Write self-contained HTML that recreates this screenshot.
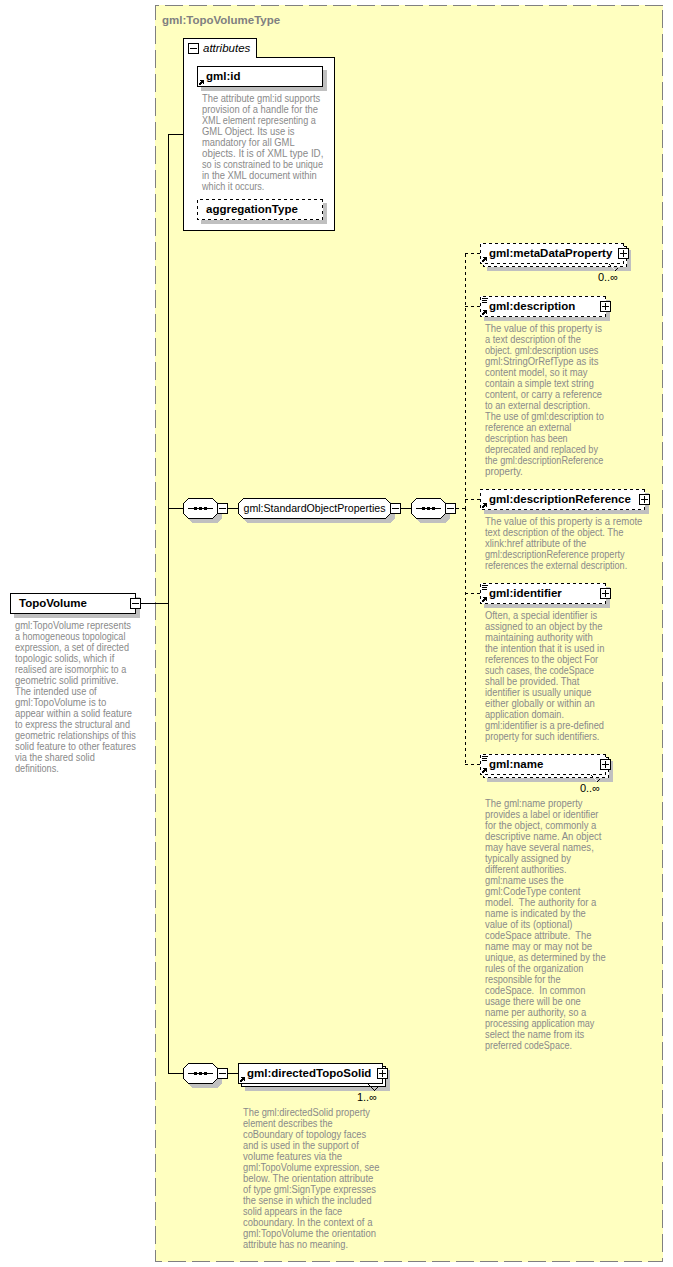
<!DOCTYPE html>
<html><head><meta charset="utf-8"><style>
html,body{margin:0;padding:0;background:#fff;}
body{width:673px;height:1267px;overflow:hidden;position:relative;}
svg{position:absolute;left:0;top:0;}
text{font-family:"Liberation Sans", sans-serif;white-space:pre;}
</style></head><body>
<svg width="673" height="1267" viewBox="0 0 673 1267" shape-rendering="crispEdges">
<rect x="155" y="5" width="508" height="1257" fill="#FFFFC0"/>
<line x1="155" y1="5.5" x2="663" y2="5.5" stroke="#808080" stroke-width="1" stroke-dasharray="18 6" stroke-dashoffset="14"/>
<line x1="155" y1="1261.5" x2="663" y2="1261.5" stroke="#808080" stroke-width="1" stroke-dasharray="18 6" stroke-dashoffset="11"/>
<line x1="155.5" y1="5" x2="155.5" y2="1262" stroke="#808080" stroke-width="1" stroke-dasharray="18 6" stroke-dashoffset="3"/>
<line x1="662.5" y1="5" x2="662.5" y2="1262" stroke="#808080" stroke-width="1" stroke-dasharray="18 6" stroke-dashoffset="19"/>
<text x="162" y="24" font-size="11.5" font-weight="bold" font-style="normal" fill="#808080" text-anchor="start">gml:TopoVolumeType</text>
<path d="M183.5,230.5 V38.5 H256.5 V57.5 H334.5 V230.5 Z" fill="#fff" stroke="#000" stroke-width="1"/>
<rect x="188.5" y="43.5" width="10" height="10" fill="#fff" stroke="#000" stroke-width="1"/>
<line x1="190" y1="48.5" x2="197" y2="48.5" stroke="#000" stroke-width="1"/>
<text x="203" y="52" font-size="11.5" font-weight="normal" font-style="italic" fill="#000" text-anchor="start">attributes</text>
<rect x="201" y="70" width="126" height="21" fill="#C0C0C0"/>
<rect x="197.5" y="66.5" width="125" height="20" fill="#fff" stroke="#000" stroke-width="1"/>
<rect x="200" y="80" width="1" height="1" fill="#000"/>
<rect x="201" y="80" width="1" height="1" fill="#000"/>
<rect x="202" y="80" width="1" height="1" fill="#000"/>
<rect x="203" y="80" width="1" height="1" fill="#000"/>
<rect x="201" y="81" width="1" height="1" fill="#000"/>
<rect x="202" y="81" width="1" height="1" fill="#000"/>
<rect x="203" y="81" width="1" height="1" fill="#000"/>
<rect x="200" y="82" width="1" height="1" fill="#000"/>
<rect x="201" y="82" width="1" height="1" fill="#000"/>
<rect x="202" y="82" width="1" height="1" fill="#000"/>
<rect x="203" y="82" width="1" height="1" fill="#000"/>
<rect x="199" y="83" width="1" height="1" fill="#000"/>
<rect x="200" y="83" width="1" height="1" fill="#000"/>
<rect x="201" y="83" width="1" height="1" fill="#000"/>
<rect x="203" y="83" width="1" height="1" fill="#000"/>
<rect x="199" y="84" width="1" height="1" fill="#000"/>
<rect x="200" y="84" width="1" height="1" fill="#000"/>
<text x="206" y="80" font-size="11.5" font-weight="bold" font-style="normal" fill="#000" text-anchor="start">gml:id</text>
<text x="202" y="102" font-size="10" fill="#8a8a8a" textLength="118.20" lengthAdjust="spacingAndGlyphs">The attribute gml:id supports</text>
<text x="202" y="113" font-size="10" fill="#8a8a8a" textLength="116.00" lengthAdjust="spacingAndGlyphs">provision of a handle for the</text>
<text x="202" y="124" font-size="10" fill="#8a8a8a" textLength="113.80" lengthAdjust="spacingAndGlyphs">XML element representing a</text>
<text x="202" y="135" font-size="10" fill="#8a8a8a" textLength="92.60" lengthAdjust="spacingAndGlyphs">GML Object. Its use is</text>
<text x="202" y="146" font-size="10" fill="#8a8a8a" textLength="92.60" lengthAdjust="spacingAndGlyphs">mandatory for all GML</text>
<text x="202" y="157" font-size="10" fill="#8a8a8a" textLength="121.40" lengthAdjust="spacingAndGlyphs">objects. It is of XML type ID,</text>
<text x="202" y="168" font-size="10" fill="#8a8a8a" textLength="121.00" lengthAdjust="spacingAndGlyphs">so is constrained to be unique</text>
<text x="202" y="179" font-size="10" fill="#8a8a8a" textLength="114.80" lengthAdjust="spacingAndGlyphs">in the XML document within</text>
<text x="202" y="190" font-size="10" fill="#8a8a8a" textLength="62.40" lengthAdjust="spacingAndGlyphs">which it occurs.</text>
<rect x="201" y="203" width="126" height="21" fill="#C0C0C0"/>
<rect x="197" y="199" width="126" height="21" fill="#fff"/>
<line x1="323" y1="199.5" x2="197" y2="199.5" stroke-dasharray="3 3" stroke="#000" stroke-width="1" stroke-dashoffset="0"/>
<line x1="197.5" y1="199" x2="197.5" y2="220" stroke-dasharray="3 3" stroke="#000" stroke-width="1" stroke-dashoffset="5"/>
<line x1="197" y1="219.5" x2="323" y2="219.5" stroke-dasharray="3 3" stroke="#000" stroke-width="1" stroke-dashoffset="1"/>
<line x1="322.5" y1="220" x2="322.5" y2="199" stroke-dasharray="3 3" stroke="#000" stroke-width="1" stroke-dashoffset="0"/>
<text x="206" y="213" font-size="11.5" font-weight="bold" font-style="normal" fill="#000" text-anchor="start">aggregationType</text>
<line x1="168.5" y1="134" x2="168.5" y2="1074" stroke="#000" stroke-width="1"/>
<line x1="168" y1="134.5" x2="184" y2="134.5" stroke="#000" stroke-width="1"/>
<line x1="141" y1="603.5" x2="169" y2="603.5" stroke="#000" stroke-width="1"/>
<line x1="168" y1="508.5" x2="184" y2="508.5" stroke="#000" stroke-width="1"/>
<line x1="168" y1="1073.5" x2="184" y2="1073.5" stroke="#000" stroke-width="1"/>
<rect x="14" y="597" width="126" height="21" fill="#C0C0C0"/>
<rect x="10.5" y="593.5" width="125" height="20" fill="#fff" stroke="#000" stroke-width="1"/>
<rect x="130.5" y="598.5" width="10" height="10" fill="#fff" stroke="#000" stroke-width="1"/>
<line x1="132" y1="603.5" x2="139" y2="603.5" stroke="#000" stroke-width="1"/>
<text x="19" y="607" font-size="11.5" font-weight="bold" font-style="normal" fill="#000" text-anchor="start">TopoVolume</text>
<text x="15" y="629" font-size="10" fill="#8a8a8a" textLength="116.00" lengthAdjust="spacingAndGlyphs">gml:TopoVolume represents</text>
<text x="15" y="640" font-size="10" fill="#8a8a8a" textLength="110.40" lengthAdjust="spacingAndGlyphs">a homogeneous topological</text>
<text x="15" y="651" font-size="10" fill="#8a8a8a" textLength="114.00" lengthAdjust="spacingAndGlyphs">expression, a set of directed</text>
<text x="15" y="662" font-size="10" fill="#8a8a8a" textLength="99.20" lengthAdjust="spacingAndGlyphs">topologic solids, which if</text>
<text x="15" y="673" font-size="10" fill="#8a8a8a" textLength="111.20" lengthAdjust="spacingAndGlyphs">realised are isomorphic to a</text>
<text x="15" y="684" font-size="10" fill="#8a8a8a" textLength="103.60" lengthAdjust="spacingAndGlyphs">geometric solid primitive.</text>
<text x="15" y="695" font-size="10" fill="#8a8a8a" textLength="81.60" lengthAdjust="spacingAndGlyphs">The intended use of</text>
<text x="15" y="706" font-size="10" fill="#8a8a8a" textLength="91.40" lengthAdjust="spacingAndGlyphs">gml:TopoVolume is to</text>
<text x="15" y="717" font-size="10" fill="#8a8a8a" textLength="117.00" lengthAdjust="spacingAndGlyphs">appear within a solid feature</text>
<text x="15" y="728" font-size="10" fill="#8a8a8a" textLength="115.00" lengthAdjust="spacingAndGlyphs">to express the structural and</text>
<text x="15" y="739" font-size="10" fill="#8a8a8a" textLength="120.80" lengthAdjust="spacingAndGlyphs">geometric relationships of this</text>
<text x="15" y="750" font-size="10" fill="#8a8a8a" textLength="120.80" lengthAdjust="spacingAndGlyphs">solid feature to other features</text>
<text x="15" y="761" font-size="10" fill="#8a8a8a" textLength="79.80" lengthAdjust="spacingAndGlyphs">via the shared solid</text>
<text x="15" y="772" font-size="10" fill="#8a8a8a" textLength="43.80" lengthAdjust="spacingAndGlyphs">definitions.</text>
<polygon points="187,507 192,502 217.5,502 222,506.5 222,518.5 217.5,523 192,523 187,518" fill="#C0C0C0"/>
<polygon points="183.5,503.5 188.5,498.5 212.5,498.5 217.5,503.5 217.5,513.5 212.5,518.5 188.5,518.5 183.5,513.5" fill="#fff" stroke="#000" stroke-width="1"/>
<line x1="188" y1="508.5" x2="213" y2="508.5" stroke="#000" stroke-width="1"/>
<rect x="194" y="507" width="3" height="3" fill="#000"/>
<rect x="199" y="507" width="3" height="3" fill="#000"/>
<rect x="204" y="507" width="3" height="3" fill="#000"/>
<rect x="217.5" y="503.5" width="10" height="10" fill="#fff" stroke="#000" stroke-width="1"/>
<line x1="219" y1="508.5" x2="226" y2="508.5" stroke="#000" stroke-width="1"/>
<line x1="228" y1="508.5" x2="239" y2="508.5" stroke="#000" stroke-width="1"/>
<polygon points="242,507 247,502 390.5,502 395,506.5 395,518.5 390.5,523 247,523 242,518" fill="#C0C0C0"/>
<polygon points="238.5,503.5 243.5,498.5 385.5,498.5 390.5,503.5 390.5,513.5 385.5,518.5 243.5,518.5 238.5,513.5" fill="#fff" stroke="#000" stroke-width="1"/>
<text x="243.5" y="512" font-size="11" font-weight="normal" fill="#000" textLength="142" lengthAdjust="spacingAndGlyphs">gml:StandardObjectProperties</text>
<rect x="390.5" y="503.5" width="10" height="10" fill="#fff" stroke="#000" stroke-width="1"/>
<line x1="392" y1="508.5" x2="399" y2="508.5" stroke="#000" stroke-width="1"/>
<line x1="401" y1="508.5" x2="412" y2="508.5" stroke="#000" stroke-width="1"/>
<polygon points="415,507 420,502 445.5,502 450,506.5 450,518.5 445.5,523 420,523 415,518" fill="#C0C0C0"/>
<polygon points="411.5,503.5 416.5,498.5 440.5,498.5 445.5,503.5 445.5,513.5 440.5,518.5 416.5,518.5 411.5,513.5" fill="#fff" stroke="#000" stroke-width="1"/>
<line x1="416" y1="508.5" x2="441" y2="508.5" stroke="#000" stroke-width="1"/>
<rect x="422" y="507" width="3" height="3" fill="#000"/>
<rect x="427" y="507" width="3" height="3" fill="#000"/>
<rect x="432" y="507" width="3" height="3" fill="#000"/>
<rect x="445.5" y="503.5" width="10" height="10" fill="#fff" stroke="#000" stroke-width="1"/>
<line x1="447" y1="508.5" x2="454" y2="508.5" stroke="#000" stroke-width="1"/>
<line x1="456" y1="508.5" x2="466" y2="508.5" stroke="#000" stroke-width="1" stroke-dasharray="3 3" stroke-dashoffset="0"/>
<line x1="465.5" y1="509" x2="465.5" y2="253" stroke="#000" stroke-width="1" stroke-dasharray="3 3"/>
<line x1="465.5" y1="508" x2="465.5" y2="765" stroke="#000" stroke-width="1" stroke-dasharray="3 3"/>
<line x1="465" y1="253.5" x2="481" y2="253.5" stroke="#000" stroke-width="1" stroke-dasharray="3 3" stroke-dashoffset="0"/>
<line x1="465" y1="306.5" x2="481" y2="306.5" stroke="#000" stroke-width="1" stroke-dasharray="3 3" stroke-dashoffset="0"/>
<line x1="465" y1="499.5" x2="481" y2="499.5" stroke="#000" stroke-width="1" stroke-dasharray="3 3" stroke-dashoffset="0"/>
<line x1="465" y1="593.5" x2="481" y2="593.5" stroke="#000" stroke-width="1" stroke-dasharray="3 3" stroke-dashoffset="0"/>
<line x1="465" y1="764.5" x2="481" y2="764.5" stroke="#000" stroke-width="1" stroke-dasharray="3 3" stroke-dashoffset="0"/>
<rect x="487" y="250" width="144" height="21" fill="#C0C0C0"/>
<rect x="483" y="246" width="144" height="21" fill="#fff"/>
<line x1="627" y1="246.5" x2="483" y2="246.5" stroke-dasharray="3 3" stroke="#000" stroke-width="1" stroke-dashoffset="0"/>
<line x1="483.5" y1="246" x2="483.5" y2="267" stroke-dasharray="3 3" stroke="#000" stroke-width="1" stroke-dashoffset="5"/>
<line x1="483" y1="266.5" x2="627" y2="266.5" stroke-dasharray="3 3" stroke="#000" stroke-width="1" stroke-dashoffset="1"/>
<line x1="626.5" y1="267" x2="626.5" y2="246" stroke-dasharray="3 3" stroke="#000" stroke-width="1" stroke-dashoffset="0"/>
<rect x="480" y="243" width="144" height="21" fill="#fff"/>
<line x1="624" y1="243.5" x2="480" y2="243.5" stroke-dasharray="3 3" stroke="#000" stroke-width="1" stroke-dashoffset="0"/>
<line x1="480.5" y1="243" x2="480.5" y2="264" stroke-dasharray="3 3" stroke="#000" stroke-width="1" stroke-dashoffset="5"/>
<line x1="480" y1="263.5" x2="624" y2="263.5" stroke-dasharray="3 3" stroke="#000" stroke-width="1" stroke-dashoffset="1"/>
<line x1="623.5" y1="264" x2="623.5" y2="243" stroke-dasharray="3 3" stroke="#000" stroke-width="1" stroke-dashoffset="0"/>
<rect x="483" y="257" width="1" height="1" fill="#000"/>
<rect x="484" y="257" width="1" height="1" fill="#000"/>
<rect x="485" y="257" width="1" height="1" fill="#000"/>
<rect x="486" y="257" width="1" height="1" fill="#000"/>
<rect x="484" y="258" width="1" height="1" fill="#000"/>
<rect x="485" y="258" width="1" height="1" fill="#000"/>
<rect x="486" y="258" width="1" height="1" fill="#000"/>
<rect x="483" y="259" width="1" height="1" fill="#000"/>
<rect x="484" y="259" width="1" height="1" fill="#000"/>
<rect x="485" y="259" width="1" height="1" fill="#000"/>
<rect x="486" y="259" width="1" height="1" fill="#000"/>
<rect x="482" y="260" width="1" height="1" fill="#000"/>
<rect x="483" y="260" width="1" height="1" fill="#000"/>
<rect x="484" y="260" width="1" height="1" fill="#000"/>
<rect x="486" y="260" width="1" height="1" fill="#000"/>
<rect x="482" y="261" width="1" height="1" fill="#000"/>
<rect x="483" y="261" width="1" height="1" fill="#000"/>
<text x="489" y="257" font-size="11.5" font-weight="bold" font-style="normal" fill="#000" text-anchor="start">gml:metaDataProperty</text>
<rect x="612" y="267" width="1" height="1" fill="#eee"/>
<rect x="613" y="268" width="1" height="1" fill="#eee"/>
<rect x="614" y="269" width="1" height="1" fill="#eee"/>
<rect x="609" y="264" width="1" height="1" fill="#000"/>
<rect x="610" y="265" width="1" height="1" fill="#000"/>
<rect x="615" y="270" width="1" height="1" fill="#000"/>
<rect x="616" y="269" width="1" height="1" fill="#000"/>
<rect x="617" y="268" width="1" height="1" fill="#000"/>
<rect x="618.5" y="248.5" width="10" height="10" fill="#fff" stroke="#000" stroke-width="1"/>
<line x1="620" y1="253.5" x2="627" y2="253.5" stroke="#000" stroke-width="1"/>
<line x1="623.5" y1="250" x2="623.5" y2="257" stroke="#000" stroke-width="1"/>
<text x="618" y="281" font-size="11" font-weight="normal" font-style="normal" fill="#000" text-anchor="end">0..∞</text>
<rect x="484" y="300" width="126" height="21" fill="#C0C0C0"/>
<rect x="480" y="296" width="126" height="21" fill="#fff"/>
<line x1="606" y1="296.5" x2="480" y2="296.5" stroke-dasharray="3 3" stroke="#000" stroke-width="1" stroke-dashoffset="0"/>
<line x1="480.5" y1="296" x2="480.5" y2="317" stroke-dasharray="3 3" stroke="#000" stroke-width="1" stroke-dashoffset="5"/>
<line x1="480" y1="316.5" x2="606" y2="316.5" stroke-dasharray="3 3" stroke="#000" stroke-width="1" stroke-dashoffset="1"/>
<line x1="605.5" y1="317" x2="605.5" y2="296" stroke-dasharray="3 3" stroke="#000" stroke-width="1" stroke-dashoffset="0"/>
<line x1="482" y1="298.5" x2="488" y2="298.5" stroke="#000" stroke-width="1"/>
<line x1="482" y1="300.5" x2="487" y2="300.5" stroke="#000" stroke-width="1"/>
<line x1="482" y1="302.5" x2="487" y2="302.5" stroke="#000" stroke-width="1"/>
<rect x="483" y="310" width="1" height="1" fill="#000"/>
<rect x="484" y="310" width="1" height="1" fill="#000"/>
<rect x="485" y="310" width="1" height="1" fill="#000"/>
<rect x="486" y="310" width="1" height="1" fill="#000"/>
<rect x="484" y="311" width="1" height="1" fill="#000"/>
<rect x="485" y="311" width="1" height="1" fill="#000"/>
<rect x="486" y="311" width="1" height="1" fill="#000"/>
<rect x="483" y="312" width="1" height="1" fill="#000"/>
<rect x="484" y="312" width="1" height="1" fill="#000"/>
<rect x="485" y="312" width="1" height="1" fill="#000"/>
<rect x="486" y="312" width="1" height="1" fill="#000"/>
<rect x="482" y="313" width="1" height="1" fill="#000"/>
<rect x="483" y="313" width="1" height="1" fill="#000"/>
<rect x="484" y="313" width="1" height="1" fill="#000"/>
<rect x="486" y="313" width="1" height="1" fill="#000"/>
<rect x="482" y="314" width="1" height="1" fill="#000"/>
<rect x="483" y="314" width="1" height="1" fill="#000"/>
<text x="489" y="310" font-size="11.5" font-weight="bold" font-style="normal" fill="#000" text-anchor="start">gml:description</text>
<rect x="600.5" y="301.5" width="10" height="10" fill="#fff" stroke="#000" stroke-width="1"/>
<line x1="602" y1="306.5" x2="609" y2="306.5" stroke="#000" stroke-width="1"/>
<line x1="605.5" y1="303" x2="605.5" y2="310" stroke="#000" stroke-width="1"/>
<text x="485" y="332" font-size="10" fill="#8a8a8a" textLength="117.00" lengthAdjust="spacingAndGlyphs">The value of this property is</text>
<text x="485" y="343" font-size="10" fill="#8a8a8a" textLength="95.80" lengthAdjust="spacingAndGlyphs">a text description of the</text>
<text x="485" y="354" font-size="10" fill="#8a8a8a" textLength="113.40" lengthAdjust="spacingAndGlyphs">object. gml:description uses</text>
<text x="485" y="365" font-size="10" fill="#8a8a8a" textLength="113.40" lengthAdjust="spacingAndGlyphs">gml:StringOrRefType as its</text>
<text x="485" y="376" font-size="10" fill="#8a8a8a" textLength="102.60" lengthAdjust="spacingAndGlyphs">content model, so it may</text>
<text x="485" y="387" font-size="10" fill="#8a8a8a" textLength="108.80" lengthAdjust="spacingAndGlyphs">contain a simple text string</text>
<text x="485" y="398" font-size="10" fill="#8a8a8a" textLength="117.00" lengthAdjust="spacingAndGlyphs">content, or carry a reference</text>
<text x="485" y="409" font-size="10" fill="#8a8a8a" textLength="105.20" lengthAdjust="spacingAndGlyphs">to an external description.</text>
<text x="485" y="420" font-size="10" fill="#8a8a8a" textLength="118.80" lengthAdjust="spacingAndGlyphs">The use of gml:description to</text>
<text x="485" y="431" font-size="10" fill="#8a8a8a" textLength="86.40" lengthAdjust="spacingAndGlyphs">reference an external</text>
<text x="485" y="442" font-size="10" fill="#8a8a8a" textLength="82.60" lengthAdjust="spacingAndGlyphs">description has been</text>
<text x="485" y="453" font-size="10" fill="#8a8a8a" textLength="113.00" lengthAdjust="spacingAndGlyphs">deprecated and replaced by</text>
<text x="485" y="464" font-size="10" fill="#8a8a8a" textLength="118.40" lengthAdjust="spacingAndGlyphs">the gml:descriptionReference</text>
<text x="485" y="475" font-size="10" fill="#8a8a8a" textLength="37.80" lengthAdjust="spacingAndGlyphs">property.</text>
<rect x="484" y="493" width="165" height="21" fill="#C0C0C0"/>
<rect x="480" y="489" width="165" height="21" fill="#fff"/>
<line x1="645" y1="489.5" x2="480" y2="489.5" stroke-dasharray="3 3" stroke="#000" stroke-width="1" stroke-dashoffset="0"/>
<line x1="480.5" y1="489" x2="480.5" y2="510" stroke-dasharray="3 3" stroke="#000" stroke-width="1" stroke-dashoffset="2"/>
<line x1="480" y1="509.5" x2="645" y2="509.5" stroke-dasharray="3 3" stroke="#000" stroke-width="1" stroke-dashoffset="4"/>
<line x1="644.5" y1="510" x2="644.5" y2="489" stroke-dasharray="3 3" stroke="#000" stroke-width="1" stroke-dashoffset="0"/>
<rect x="483" y="503" width="1" height="1" fill="#000"/>
<rect x="484" y="503" width="1" height="1" fill="#000"/>
<rect x="485" y="503" width="1" height="1" fill="#000"/>
<rect x="486" y="503" width="1" height="1" fill="#000"/>
<rect x="484" y="504" width="1" height="1" fill="#000"/>
<rect x="485" y="504" width="1" height="1" fill="#000"/>
<rect x="486" y="504" width="1" height="1" fill="#000"/>
<rect x="483" y="505" width="1" height="1" fill="#000"/>
<rect x="484" y="505" width="1" height="1" fill="#000"/>
<rect x="485" y="505" width="1" height="1" fill="#000"/>
<rect x="486" y="505" width="1" height="1" fill="#000"/>
<rect x="482" y="506" width="1" height="1" fill="#000"/>
<rect x="483" y="506" width="1" height="1" fill="#000"/>
<rect x="484" y="506" width="1" height="1" fill="#000"/>
<rect x="486" y="506" width="1" height="1" fill="#000"/>
<rect x="482" y="507" width="1" height="1" fill="#000"/>
<rect x="483" y="507" width="1" height="1" fill="#000"/>
<text x="489" y="503" font-size="11.5" font-weight="bold" font-style="normal" fill="#000" text-anchor="start">gml:descriptionReference</text>
<rect x="639.5" y="494.5" width="10" height="10" fill="#fff" stroke="#000" stroke-width="1"/>
<line x1="641" y1="499.5" x2="648" y2="499.5" stroke="#000" stroke-width="1"/>
<line x1="644.5" y1="496" x2="644.5" y2="503" stroke="#000" stroke-width="1"/>
<text x="485" y="525" font-size="10" fill="#8a8a8a" textLength="157.40" lengthAdjust="spacingAndGlyphs">The value of this property is a remote</text>
<text x="485" y="536" font-size="10" fill="#8a8a8a" textLength="138.60" lengthAdjust="spacingAndGlyphs">text description of the object. The</text>
<text x="485" y="547" font-size="10" fill="#8a8a8a" textLength="101.40" lengthAdjust="spacingAndGlyphs">xlink:href attribute of the</text>
<text x="485" y="558" font-size="10" fill="#8a8a8a" textLength="139.60" lengthAdjust="spacingAndGlyphs">gml:descriptionReference property</text>
<text x="485" y="569" font-size="10" fill="#8a8a8a" textLength="142.20" lengthAdjust="spacingAndGlyphs">references the external description.</text>
<rect x="484" y="587" width="126" height="21" fill="#C0C0C0"/>
<rect x="480" y="583" width="126" height="21" fill="#fff"/>
<line x1="606" y1="583.5" x2="480" y2="583.5" stroke-dasharray="3 3" stroke="#000" stroke-width="1" stroke-dashoffset="0"/>
<line x1="480.5" y1="583" x2="480.5" y2="604" stroke-dasharray="3 3" stroke="#000" stroke-width="1" stroke-dashoffset="5"/>
<line x1="480" y1="603.5" x2="606" y2="603.5" stroke-dasharray="3 3" stroke="#000" stroke-width="1" stroke-dashoffset="1"/>
<line x1="605.5" y1="604" x2="605.5" y2="583" stroke-dasharray="3 3" stroke="#000" stroke-width="1" stroke-dashoffset="0"/>
<line x1="482" y1="585.5" x2="488" y2="585.5" stroke="#000" stroke-width="1"/>
<line x1="482" y1="587.5" x2="487" y2="587.5" stroke="#000" stroke-width="1"/>
<line x1="482" y1="589.5" x2="487" y2="589.5" stroke="#000" stroke-width="1"/>
<rect x="483" y="597" width="1" height="1" fill="#000"/>
<rect x="484" y="597" width="1" height="1" fill="#000"/>
<rect x="485" y="597" width="1" height="1" fill="#000"/>
<rect x="486" y="597" width="1" height="1" fill="#000"/>
<rect x="484" y="598" width="1" height="1" fill="#000"/>
<rect x="485" y="598" width="1" height="1" fill="#000"/>
<rect x="486" y="598" width="1" height="1" fill="#000"/>
<rect x="483" y="599" width="1" height="1" fill="#000"/>
<rect x="484" y="599" width="1" height="1" fill="#000"/>
<rect x="485" y="599" width="1" height="1" fill="#000"/>
<rect x="486" y="599" width="1" height="1" fill="#000"/>
<rect x="482" y="600" width="1" height="1" fill="#000"/>
<rect x="483" y="600" width="1" height="1" fill="#000"/>
<rect x="484" y="600" width="1" height="1" fill="#000"/>
<rect x="486" y="600" width="1" height="1" fill="#000"/>
<rect x="482" y="601" width="1" height="1" fill="#000"/>
<rect x="483" y="601" width="1" height="1" fill="#000"/>
<text x="489" y="597" font-size="11.5" font-weight="bold" font-style="normal" fill="#000" text-anchor="start">gml:identifier</text>
<rect x="600.5" y="588.5" width="10" height="10" fill="#fff" stroke="#000" stroke-width="1"/>
<line x1="602" y1="593.5" x2="609" y2="593.5" stroke="#000" stroke-width="1"/>
<line x1="605.5" y1="590" x2="605.5" y2="597" stroke="#000" stroke-width="1"/>
<text x="485" y="619" font-size="10" fill="#8a8a8a" textLength="112.20" lengthAdjust="spacingAndGlyphs">Often, a special identifier is</text>
<text x="485" y="630" font-size="10" fill="#8a8a8a" textLength="117.40" lengthAdjust="spacingAndGlyphs">assigned to an object by the</text>
<text x="485" y="641" font-size="10" fill="#8a8a8a" textLength="107.80" lengthAdjust="spacingAndGlyphs">maintaining authority with</text>
<text x="485" y="652" font-size="10" fill="#8a8a8a" textLength="119.40" lengthAdjust="spacingAndGlyphs">the intention that it is used in</text>
<text x="485" y="663" font-size="10" fill="#8a8a8a" textLength="113.20" lengthAdjust="spacingAndGlyphs">references to the object For</text>
<text x="485" y="674" font-size="10" fill="#8a8a8a" textLength="109.00" lengthAdjust="spacingAndGlyphs">such cases, the codeSpace</text>
<text x="485" y="685" font-size="10" fill="#8a8a8a" textLength="94.40" lengthAdjust="spacingAndGlyphs">shall be provided. That</text>
<text x="485" y="696" font-size="10" fill="#8a8a8a" textLength="106.40" lengthAdjust="spacingAndGlyphs">identifier is usually unique</text>
<text x="485" y="707" font-size="10" fill="#8a8a8a" textLength="109.80" lengthAdjust="spacingAndGlyphs">either globally or within an</text>
<text x="485" y="718" font-size="10" fill="#8a8a8a" textLength="79.00" lengthAdjust="spacingAndGlyphs">application domain.</text>
<text x="485" y="729" font-size="10" fill="#8a8a8a" textLength="119.00" lengthAdjust="spacingAndGlyphs">gml:identifier is a pre-defined</text>
<text x="485" y="740" font-size="10" fill="#8a8a8a" textLength="114.40" lengthAdjust="spacingAndGlyphs">property for such identifiers.</text>
<rect x="487" y="761" width="126" height="21" fill="#C0C0C0"/>
<rect x="483" y="757" width="126" height="21" fill="#fff"/>
<line x1="609" y1="757.5" x2="483" y2="757.5" stroke-dasharray="3 3" stroke="#000" stroke-width="1" stroke-dashoffset="0"/>
<line x1="483.5" y1="757" x2="483.5" y2="778" stroke-dasharray="3 3" stroke="#000" stroke-width="1" stroke-dashoffset="5"/>
<line x1="483" y1="777.5" x2="609" y2="777.5" stroke-dasharray="3 3" stroke="#000" stroke-width="1" stroke-dashoffset="1"/>
<line x1="608.5" y1="778" x2="608.5" y2="757" stroke-dasharray="3 3" stroke="#000" stroke-width="1" stroke-dashoffset="0"/>
<rect x="480" y="754" width="126" height="21" fill="#fff"/>
<line x1="606" y1="754.5" x2="480" y2="754.5" stroke-dasharray="3 3" stroke="#000" stroke-width="1" stroke-dashoffset="0"/>
<line x1="480.5" y1="754" x2="480.5" y2="775" stroke-dasharray="3 3" stroke="#000" stroke-width="1" stroke-dashoffset="5"/>
<line x1="480" y1="774.5" x2="606" y2="774.5" stroke-dasharray="3 3" stroke="#000" stroke-width="1" stroke-dashoffset="1"/>
<line x1="605.5" y1="775" x2="605.5" y2="754" stroke-dasharray="3 3" stroke="#000" stroke-width="1" stroke-dashoffset="0"/>
<line x1="482" y1="756.5" x2="488" y2="756.5" stroke="#000" stroke-width="1"/>
<line x1="482" y1="758.5" x2="487" y2="758.5" stroke="#000" stroke-width="1"/>
<line x1="482" y1="760.5" x2="487" y2="760.5" stroke="#000" stroke-width="1"/>
<rect x="483" y="768" width="1" height="1" fill="#000"/>
<rect x="484" y="768" width="1" height="1" fill="#000"/>
<rect x="485" y="768" width="1" height="1" fill="#000"/>
<rect x="486" y="768" width="1" height="1" fill="#000"/>
<rect x="484" y="769" width="1" height="1" fill="#000"/>
<rect x="485" y="769" width="1" height="1" fill="#000"/>
<rect x="486" y="769" width="1" height="1" fill="#000"/>
<rect x="483" y="770" width="1" height="1" fill="#000"/>
<rect x="484" y="770" width="1" height="1" fill="#000"/>
<rect x="485" y="770" width="1" height="1" fill="#000"/>
<rect x="486" y="770" width="1" height="1" fill="#000"/>
<rect x="482" y="771" width="1" height="1" fill="#000"/>
<rect x="483" y="771" width="1" height="1" fill="#000"/>
<rect x="484" y="771" width="1" height="1" fill="#000"/>
<rect x="486" y="771" width="1" height="1" fill="#000"/>
<rect x="482" y="772" width="1" height="1" fill="#000"/>
<rect x="483" y="772" width="1" height="1" fill="#000"/>
<text x="489" y="768" font-size="11.5" font-weight="bold" font-style="normal" fill="#000" text-anchor="start">gml:name</text>
<rect x="594" y="778" width="1" height="1" fill="#eee"/>
<rect x="595" y="779" width="1" height="1" fill="#eee"/>
<rect x="596" y="780" width="1" height="1" fill="#eee"/>
<rect x="591" y="775" width="1" height="1" fill="#000"/>
<rect x="592" y="776" width="1" height="1" fill="#000"/>
<rect x="597" y="781" width="1" height="1" fill="#000"/>
<rect x="598" y="780" width="1" height="1" fill="#000"/>
<rect x="599" y="779" width="1" height="1" fill="#000"/>
<rect x="600.5" y="759.5" width="10" height="10" fill="#fff" stroke="#000" stroke-width="1"/>
<line x1="602" y1="764.5" x2="609" y2="764.5" stroke="#000" stroke-width="1"/>
<line x1="605.5" y1="761" x2="605.5" y2="768" stroke="#000" stroke-width="1"/>
<text x="600" y="792" font-size="11" font-weight="normal" font-style="normal" fill="#000" text-anchor="end">0..∞</text>
<text x="485" y="807" font-size="10" fill="#8a8a8a" textLength="97.60" lengthAdjust="spacingAndGlyphs">The gml:name property</text>
<text x="485" y="818" font-size="10" fill="#8a8a8a" textLength="113.40" lengthAdjust="spacingAndGlyphs">provides a label or identifier</text>
<text x="485" y="829" font-size="10" fill="#8a8a8a" textLength="111.40" lengthAdjust="spacingAndGlyphs">for the object, commonly a</text>
<text x="485" y="840" font-size="10" fill="#8a8a8a" textLength="116.40" lengthAdjust="spacingAndGlyphs">descriptive name. An object</text>
<text x="485" y="851" font-size="10" fill="#8a8a8a" textLength="108.80" lengthAdjust="spacingAndGlyphs">may have several names,</text>
<text x="485" y="862" font-size="10" fill="#8a8a8a" textLength="86.00" lengthAdjust="spacingAndGlyphs">typically assigned by</text>
<text x="485" y="873" font-size="10" fill="#8a8a8a" textLength="81.60" lengthAdjust="spacingAndGlyphs">different authorities.</text>
<text x="485" y="884" font-size="10" fill="#8a8a8a" textLength="78.60" lengthAdjust="spacingAndGlyphs">gml:name uses the</text>
<text x="485" y="895" font-size="10" fill="#8a8a8a" textLength="95.40" lengthAdjust="spacingAndGlyphs">gml:CodeType content</text>
<text x="485" y="906" font-size="10" fill="#8a8a8a" textLength="111.40" lengthAdjust="spacingAndGlyphs">model.  The authority for a</text>
<text x="485" y="917" font-size="10" fill="#8a8a8a" textLength="100.80" lengthAdjust="spacingAndGlyphs">name is indicated by the</text>
<text x="485" y="928" font-size="10" fill="#8a8a8a" textLength="87.40" lengthAdjust="spacingAndGlyphs">value of its (optional)</text>
<text x="485" y="939" font-size="10" fill="#8a8a8a" textLength="106.40" lengthAdjust="spacingAndGlyphs">codeSpace attribute.  The</text>
<text x="485" y="950" font-size="10" fill="#8a8a8a" textLength="107.20" lengthAdjust="spacingAndGlyphs">name may or may not be</text>
<text x="485" y="961" font-size="10" fill="#8a8a8a" textLength="120.60" lengthAdjust="spacingAndGlyphs">unique, as determined by the</text>
<text x="485" y="972" font-size="10" fill="#8a8a8a" textLength="98.40" lengthAdjust="spacingAndGlyphs">rules of the organization</text>
<text x="485" y="983" font-size="10" fill="#8a8a8a" textLength="75.60" lengthAdjust="spacingAndGlyphs">responsible for the</text>
<text x="485" y="994" font-size="10" fill="#8a8a8a" textLength="100.40" lengthAdjust="spacingAndGlyphs">codeSpace.  In common</text>
<text x="485" y="1005" font-size="10" fill="#8a8a8a" textLength="95.80" lengthAdjust="spacingAndGlyphs">usage there will be one</text>
<text x="485" y="1016" font-size="10" fill="#8a8a8a" textLength="101.40" lengthAdjust="spacingAndGlyphs">name per authority, so a</text>
<text x="485" y="1027" font-size="10" fill="#8a8a8a" textLength="109.40" lengthAdjust="spacingAndGlyphs">processing application may</text>
<text x="485" y="1038" font-size="10" fill="#8a8a8a" textLength="99.20" lengthAdjust="spacingAndGlyphs">select the name from its</text>
<text x="485" y="1049" font-size="10" fill="#8a8a8a" textLength="87.00" lengthAdjust="spacingAndGlyphs">preferred codeSpace.</text>
<polygon points="187,1072 192,1067 217.5,1067 222,1071.5 222,1083.5 217.5,1088 192,1088 187,1083" fill="#C0C0C0"/>
<polygon points="183.5,1068.5 188.5,1063.5 212.5,1063.5 217.5,1068.5 217.5,1078.5 212.5,1083.5 188.5,1083.5 183.5,1078.5" fill="#fff" stroke="#000" stroke-width="1"/>
<line x1="188" y1="1073.5" x2="213" y2="1073.5" stroke="#000" stroke-width="1"/>
<rect x="194" y="1072" width="3" height="3" fill="#000"/>
<rect x="199" y="1072" width="3" height="3" fill="#000"/>
<rect x="204" y="1072" width="3" height="3" fill="#000"/>
<rect x="217.5" y="1068.5" width="10" height="10" fill="#fff" stroke="#000" stroke-width="1"/>
<line x1="219" y1="1073.5" x2="226" y2="1073.5" stroke="#000" stroke-width="1"/>
<line x1="228" y1="1073.5" x2="239" y2="1073.5" stroke="#000" stroke-width="1"/>
<rect x="245" y="1070" width="145" height="21" fill="#C0C0C0"/>
<rect x="241.5" y="1066.5" width="144" height="20" fill="#fff" stroke="#000" stroke-width="1"/>
<rect x="238.5" y="1063.5" width="144" height="20" fill="#fff" stroke="#000" stroke-width="1"/>
<rect x="241" y="1077" width="1" height="1" fill="#000"/>
<rect x="242" y="1077" width="1" height="1" fill="#000"/>
<rect x="243" y="1077" width="1" height="1" fill="#000"/>
<rect x="244" y="1077" width="1" height="1" fill="#000"/>
<rect x="242" y="1078" width="1" height="1" fill="#000"/>
<rect x="243" y="1078" width="1" height="1" fill="#000"/>
<rect x="244" y="1078" width="1" height="1" fill="#000"/>
<rect x="241" y="1079" width="1" height="1" fill="#000"/>
<rect x="242" y="1079" width="1" height="1" fill="#000"/>
<rect x="243" y="1079" width="1" height="1" fill="#000"/>
<rect x="244" y="1079" width="1" height="1" fill="#000"/>
<rect x="240" y="1080" width="1" height="1" fill="#000"/>
<rect x="241" y="1080" width="1" height="1" fill="#000"/>
<rect x="242" y="1080" width="1" height="1" fill="#000"/>
<rect x="244" y="1080" width="1" height="1" fill="#000"/>
<rect x="240" y="1081" width="1" height="1" fill="#000"/>
<rect x="241" y="1081" width="1" height="1" fill="#000"/>
<text x="247" y="1077" font-size="11.5" font-weight="bold" font-style="normal" fill="#000" text-anchor="start">gml:directedTopoSolid</text>
<rect x="368" y="1084" width="1" height="1" fill="#000"/>
<rect x="369" y="1085" width="1" height="1" fill="#000"/>
<rect x="374" y="1090" width="1" height="1" fill="#000"/>
<rect x="375" y="1089" width="1" height="1" fill="#000"/>
<rect x="376" y="1088" width="1" height="1" fill="#000"/>
<rect x="371" y="1087" width="1" height="1" fill="#000"/>
<rect x="372" y="1088" width="1" height="1" fill="#000"/>
<rect x="373" y="1089" width="1" height="1" fill="#000"/>
<rect x="377" y="1087" width="1" height="1" fill="#000"/>
<rect x="377.5" y="1068.5" width="10" height="10" fill="#fff" stroke="#000" stroke-width="1"/>
<line x1="379" y1="1073.5" x2="386" y2="1073.5" stroke="#000" stroke-width="1"/>
<line x1="382.5" y1="1070" x2="382.5" y2="1077" stroke="#000" stroke-width="1"/>
<text x="377" y="1101" font-size="11" font-weight="normal" font-style="normal" fill="#000" text-anchor="end">1..∞</text>
<text x="243" y="1116" font-size="10" fill="#8a8a8a" textLength="127.00" lengthAdjust="spacingAndGlyphs">The gml:directedSolid property</text>
<text x="243" y="1127" font-size="10" fill="#8a8a8a" textLength="89.60" lengthAdjust="spacingAndGlyphs">element describes the</text>
<text x="243" y="1138" font-size="10" fill="#8a8a8a" textLength="123.20" lengthAdjust="spacingAndGlyphs">coBoundary of topology faces</text>
<text x="243" y="1149" font-size="10" fill="#8a8a8a" textLength="115.80" lengthAdjust="spacingAndGlyphs">and is used in the support of</text>
<text x="243" y="1160" font-size="10" fill="#8a8a8a" textLength="99.20" lengthAdjust="spacingAndGlyphs">volume features via the</text>
<text x="243" y="1171" font-size="10" fill="#8a8a8a" textLength="136.40" lengthAdjust="spacingAndGlyphs">gml:TopoVolume expression, see</text>
<text x="243" y="1182" font-size="10" fill="#8a8a8a" textLength="130.40" lengthAdjust="spacingAndGlyphs">below. The orientation attribute</text>
<text x="243" y="1193" font-size="10" fill="#8a8a8a" textLength="133.00" lengthAdjust="spacingAndGlyphs">of type gml:SignType expresses</text>
<text x="243" y="1204" font-size="10" fill="#8a8a8a" textLength="128.60" lengthAdjust="spacingAndGlyphs">the sense in which the included</text>
<text x="243" y="1215" font-size="10" fill="#8a8a8a" textLength="99.20" lengthAdjust="spacingAndGlyphs">solid appears in the face</text>
<text x="243" y="1226" font-size="10" fill="#8a8a8a" textLength="129.40" lengthAdjust="spacingAndGlyphs">coboundary. In the context of a</text>
<text x="243" y="1237" font-size="10" fill="#8a8a8a" textLength="133.00" lengthAdjust="spacingAndGlyphs">gml:TopoVolume the orientation</text>
<text x="243" y="1248" font-size="10" fill="#8a8a8a" textLength="105.00" lengthAdjust="spacingAndGlyphs">attribute has no meaning.</text>
</svg></body></html>
